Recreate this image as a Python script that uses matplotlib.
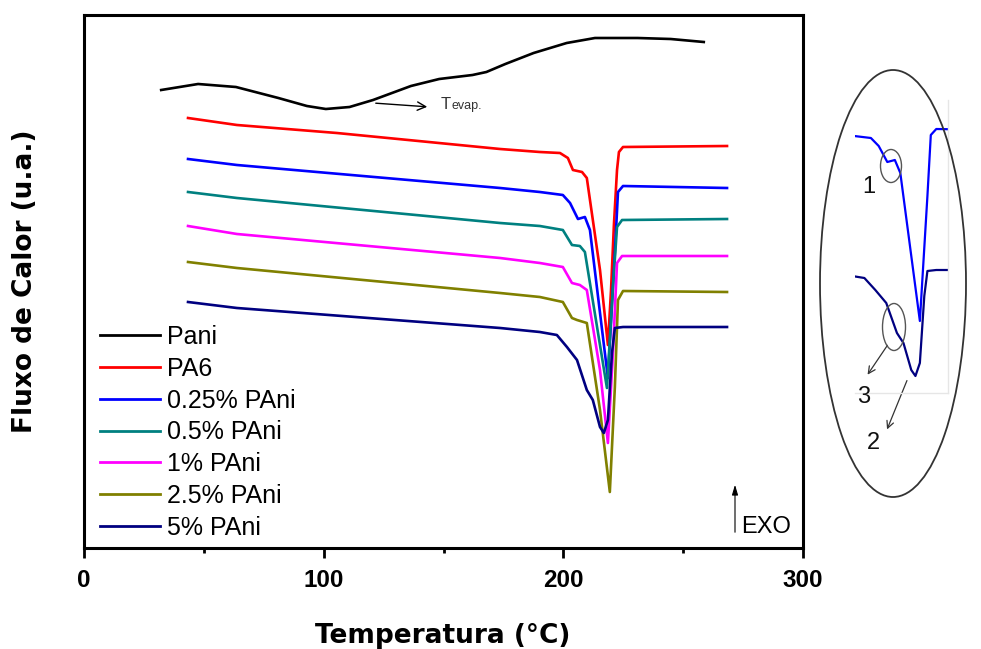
import numpy as np
import matplotlib
matplotlib.use("Agg")
import matplotlib.pyplot as plt
from matplotlib.patches import Ellipse

plt.rcParams['font.family'] = ['Liberation Sans', 'DejaVu Sans']

# DSC curves, temperature (C) vs heat flow (arbitrary units, offset per curve)
pani_t = [32.2, 47.6, 63.4, 81.1, 93.0, 100.9, 110.8, 120.6, 136.4, 148.2,
          162.1, 167.9, 175.8, 187.6, 201.4, 213.2, 231.0, 244.8, 258.6]
pani_y = [458, 464, 461, 450, 442, 439, 441, 448, 462, 469,
          473, 476, 484, 495, 505, 510, 510, 509, 506]

pa6_t = [43.4, 63.8, 105.5, 173.6, 190.2, 198.6, 201.9, 204.0, 207.8, 209.8, 215.3,
         218.6, 219.9, 221.1, 222.4, 223.2, 224.9, 268.3]
pa6_y = [430, 423, 415, 399, 396, 395, 390, 378, 376, 370, 278,
         203, 258, 323, 378, 396, 401, 402]

p025_t = [43.4, 63.8, 173.6, 190.2, 199.8, 202.8, 206.1, 209.0, 211.1, 218.6, 221.5,
          222.8, 224.9, 268.3]
p025_y = [389, 383, 360, 356, 353, 345, 329, 331, 318, 170, 295, 356, 362, 360]

p05_t = [43.4, 63.8, 173.6, 190.2, 199.8, 203.6, 206.9, 209.0, 218.2, 220.7, 222.4,
         224.5, 268.3]
p05_y = [356, 350, 325, 322, 318, 303, 302, 296, 160, 261, 321, 328, 329]

p1_t = [43.4, 63.8, 173.6, 190.2, 199.8, 203.6, 206.9, 209.8, 215.3, 218.6, 220.7,
        222.4, 224.5, 268.3]
p1_y = [322, 314, 290, 285, 281, 265, 263, 258, 178, 105, 195, 285, 292, 292]

p25_t = [43.4, 63.8, 173.6, 190.2, 199.8, 203.6, 205.7, 209.8, 215.3, 219.4, 221.5,
         222.8, 224.9, 268.3]
p25_y = [286, 280, 255, 251, 246, 230, 228, 225, 138, 56, 161, 248, 257, 256]

p5_t = [43.4, 63.8, 173.6, 190.2, 197.3, 201.5, 205.7, 209.8, 212.3, 215.3, 216.9,
        218.6, 220.3, 221.5, 224.9, 268.3]
p5_y = [246, 240, 220, 216, 213, 201, 188, 158, 148, 121, 115, 128, 195, 220, 221, 221]

labels = ["Pani", "PA6", "0.25% PAni", "0.5% PAni", "1% PAni", "2.5% PAni", "5% PAni"]
colors = ["black", "#ff0000", "#0000ff", "#008080", "#ff00ff", "#808000", "#000080"]
series = [(pani_t, pani_y), (pa6_t, pa6_y), (p025_t, p025_y), (p05_t, p05_y),
          (p1_t, p1_y), (p25_t, p25_y), (p5_t, p5_y)]

W, H = 981, 649


def fig_xy(px, py):
    # figure pixel position measured from the top-left corner
    return px / W, 1 - py / H


fig = plt.figure(figsize=(W / 100, H / 100), dpi=100)
ax = fig.add_axes([84 / W, 1 - 548 / H, 719 / W, 533 / H])

for (t, y), c, lab in zip(series, colors, labels):
    ax.plot(t, y, color=c, lw=1.9, label=lab, solid_joinstyle='round')

ax.set_xlim(0, 300)
ax.set_ylim(0, 533)
ax.set_xticks([0, 100, 200, 300])
ax.set_xticks([50, 150, 250], minor=True)
ax.set_yticks([])
ax.tick_params(axis='x', which='major', direction='out', length=7, width=2, pad=8,
               labelsize=17.5)
ax.tick_params(axis='x', which='minor', direction='out', length=3.5, width=2)
for lbl in ax.get_xticklabels():
    lbl.set_fontweight('bold')
for sp in ax.spines.values():
    sp.set_linewidth(2.2)

leg = ax.legend(loc='upper left', bbox_to_anchor=(0.022, 0.418), frameon=False,
                fontsize=18, handlelength=2.4, handletextpad=0.3,
                labelspacing=0.31, borderaxespad=0, borderpad=0)
for h in leg.get_lines():
    h.set_linewidth(2)

fig.text(*fig_xy(443, 636), "Temperatura (°C)", ha='center', va='center',
         fontsize=19, fontweight='bold', family='DejaVu Sans')
fig.text(*fig_xy(25, 281), "Fluxo de Calor (u.a.)", ha='center', va='center',
         rotation=90, fontsize=19, fontweight='bold', family='DejaVu Sans')

# T evap arrow and text
ax.annotate('', xy=(430, H - 107), xytext=(373, H - 103), xycoords='figure pixels',
            textcoords='figure pixels',
            arrowprops=dict(arrowstyle='->,head_length=0.6,head_width=0.3', lw=1,
                            color='black'))
fig.text(*fig_xy(441, 109), "T", fontsize=12, color='#333333', va='baseline')
fig.text(*fig_xy(451, 109), "evap.", fontsize=9, color='#333333', va='baseline')

# EXO arrow
ax.annotate('', xy=(735, H - 482), xytext=(735, H - 535), xycoords='figure pixels',
            textcoords='figure pixels',
            arrowprops=dict(arrowstyle='-|>,head_length=0.6,head_width=0.18', lw=0.8,
                            color='black'))
fig.text(*fig_xy(741, 533), "EXO", fontsize=17, va='baseline')

# inset: zoom on the melting peak of 0.25% and 5% PAni
ell = Ellipse(fig_xy(893, 283.5), 146 / W, 427 / H, transform=fig.transFigure,
              fill=False, edgecolor='#333333', lw=1.3)
fig.add_artist(ell)

ins = fig.add_axes([855 / W, 1 - 393 / H, 93 / W, 293 / H])
ins.patch.set_alpha(0)
ins.plot(p025_t, p025_y, color="#0000ff", lw=1.6, solid_joinstyle='round')
ins.plot(p5_t, p5_y, color="#000080", lw=1.6, solid_joinstyle='round')
ins.set_xlim(193.7, 229.4)
ins.set_ylim(98, 391)
ins.set_xticks([])
ins.set_yticks([])
for k in ['top', 'left']:
    ins.spines[k].set_visible(False)
for k in ['right', 'bottom']:
    ins.spines[k].set_color('#e6e6e6')
    ins.spines[k].set_linewidth(1)

for cx, cy, w, h in [(891, 166, 21, 33), (894, 327, 23, 47)]:
    fig.add_artist(Ellipse(fig_xy(cx, cy), w / W, h / H, transform=fig.transFigure,
                           fill=False, edgecolor='#555555', lw=1))

for (x0, y0), (x1, y1) in [((889, 343), (866, 377)), ((908, 378), (886, 432))]:
    ax.annotate('', xy=(x1, H - y1), xytext=(x0, H - y0), xycoords='figure pixels',
                textcoords='figure pixels',
                arrowprops=dict(arrowstyle='->,head_length=0.5,head_width=0.25',
                                lw=0.9, color='#333333'))

for px, py, s in [(869, 187, "1"), (864, 397, "3"), (873, 443, "2")]:
    fig.text(*fig_xy(px, py), s, fontsize=17, ha='center', va='center',
             color='#111111')

fig.savefig("out.png", dpi=100)
